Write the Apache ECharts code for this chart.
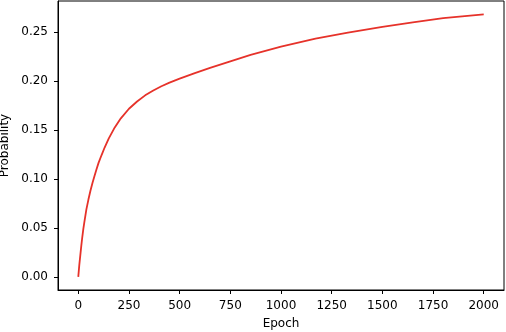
<!DOCTYPE html>
<html>
<head>
<meta charset="utf-8">
<script src="https://cdn.jsdelivr.net/npm/echarts@6/dist/echarts.min.js"></script>
<style>
html,body{margin:0;padding:0;background:#fff;}
#chart{width:506px;height:332px;}
</style>
</head>
<body>
<div id="chart"></div>
<script>
const epochs = [0, 5, 10, 15, 20, 25, 30, 40, 50, 60, 70, 80, 90, 100, 115, 130, 150, 180, 210, 250, 290, 330, 370, 410, 450, 500, 575, 650, 750, 850, 1000, 1170, 1330, 1500, 1650, 1800, 2000];
const probability = [0.000, 0.012, 0.022, 0.032, 0.041, 0.049, 0.056, 0.069, 0.079, 0.088, 0.096, 0.103, 0.110, 0.1165, 0.1245, 0.1322, 0.1413, 0.1527, 0.1620, 0.1718, 0.1792, 0.1855, 0.1905, 0.1948, 0.1985, 0.2025, 0.2082, 0.2135, 0.2203, 0.2268, 0.2352, 0.2435, 0.2497, 0.2555, 0.2600, 0.2643, 0.2683];
const xTicks = [0, 250, 500, 750, 1000, 1250, 1500, 1750, 2000];
const yTicks = [0, 0.05, 0.10, 0.15, 0.20, 0.25];

const chart = echarts.init(document.getElementById('chart'), null, {renderer: 'canvas'});
const font = 'DejaVu Sans';
chart.setOption({
  animation: false,
  backgroundColor: '#fff',
  grid: {left: 58, right: 2, top: 1, bottom: 42, containLabel: false, outerBoundsMode: 'none', show: true, borderColor: '#000', borderWidth: 1, backgroundColor: 'transparent'},
  xAxis: {
    type: 'value', min: -100, max: 2100,
    name: 'Epoch', nameLocation: 'middle', nameGap: 28,
    nameTextStyle: {fontFamily: font, fontSize: 12, color: '#000'},
    axisLine: {show: true, onZero: false, lineStyle: {color: '#000', width: 1}},
    axisTick: {show: true, length: 4, lineStyle: {color: '#000'}, customValues: xTicks},
    axisLabel: {fontFamily: font, fontSize: 12, color: '#000', margin: 10, customValues: xTicks, formatter: v => String(v)},
    splitLine: {show: false}
  },
  yAxis: {
    type: 'value', min: -0.0134, max: 0.2819,
    name: 'Probability', nameLocation: 'middle', nameGap: 44, nameRotate: 90,
    nameTextStyle: {fontFamily: font, fontSize: 12, color: '#000'},
    axisLine: {show: true, onZero: false, lineStyle: {color: '#000', width: 1}},
    axisTick: {show: true, length: 4, lineStyle: {color: '#000'}, customValues: yTicks},
    axisLabel: {fontFamily: font, fontSize: 12, color: '#000', margin: 10, customValues: yTicks, formatter: v => v.toFixed(2)},
    splitLine: {show: false}
  },
  series: [{
    type: 'line',
    data: epochs.map((e, i) => [e, probability[i]]),
    showSymbol: false,
    smooth: false,
    lineStyle: {color: '#e6322a', width: 1.8},
    itemStyle: {color: '#e6322a'}
  }]
});
</script>
</body>
</html>
